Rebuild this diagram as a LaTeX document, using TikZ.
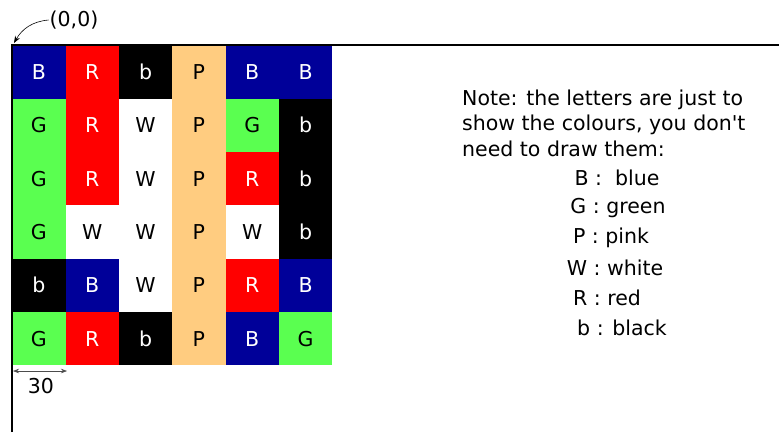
\documentclass[tikz,border=0pt]{standalone}
\usepackage{fontspec}
\setmainfont{DejaVu Sans}[Ligatures=TeXOff]
\usetikzlibrary{positioning, arrows.meta}

\definecolor{tileblue}{RGB}{0,0,153}
\definecolor{tilered}{RGB}{255,0,0}
\definecolor{tilegreen}{RGB}{90,255,80}
\definecolor{tilepink}{RGB}{255,204,128}
% fill and text colour for every letter
\colorlet{fillB}{tileblue}  \colorlet{textB}{white}
\colorlet{fillR}{tilered}   \colorlet{textR}{white}
\colorlet{fillb}{black}     \colorlet{textb}{white}
\colorlet{fillG}{tilegreen} \colorlet{textG}{black}
\colorlet{fillW}{white}     \colorlet{textW}{black}
\colorlet{fillP}{tilepink}  \colorlet{textP}{black}

\begin{document}
\begin{tikzpicture}[x=1pt, y=-1pt, font=\fontsize{20.5}{24}\selectfont,
  tile/.style={minimum width=53.4pt, minimum height=53.4pt, inner sep=0pt, anchor=north west},
  axis/.style={line width=1.4pt}]
\useasboundingbox (0,0) rectangle (779,432);
% the tiles
\foreach \row [count=\r from 0] in {{B,R,b,P,B,B},{G,R,W,P,G,b},{G,R,W,P,R,b},{G,W,W,P,W,b},{b,B,W,P,R,B},{G,R,b,P,B,G}}
  \foreach \l [count=\c from 0] in \row
    \node[tile, fill=fill\l, text=text\l] (t\r\c) at ({12+53.33*\c},{45+53.33*\r}) {\l};
% axes
\coordinate (origin) at (12,45);
\draw[axis] (12,432) -- (origin) -- (779,45);
\node[inner sep=1pt] (olabel) at (74,20) {(0,0)};
\draw[-{Stealth[length=7pt]}, semithick] (olabel.west) to[out=185, in=60] ([shift={(2,-2)}]origin);
% width of one tile
\coordinate (dimL) at (13,371);
\coordinate (dimR) at (67,371);
\draw[{Stealth[length=6pt]}-{Stealth[length=6pt]}, semithick, black!70] (dimL) -- (dimR);
\node (w30) at (41,386) {30};
% note
\node[anchor=west, align=left, inner sep=0pt, font=\fontsize{20.5}{25.5}\selectfont] (note) at (462,123)
  {Note: the letters are just to\\show the colours, you don't\\need to draw them:};
\foreach \x/\txt [count=\i from 0] in {617/{B :\ \ blue},618/{G : green},611/{P : pink},615/{W : white},607/{R : red},622/{b : black}}
  \node (leg\i) at (\x,{178+30*\i}) {\txt};
\end{tikzpicture}
\end{document}
